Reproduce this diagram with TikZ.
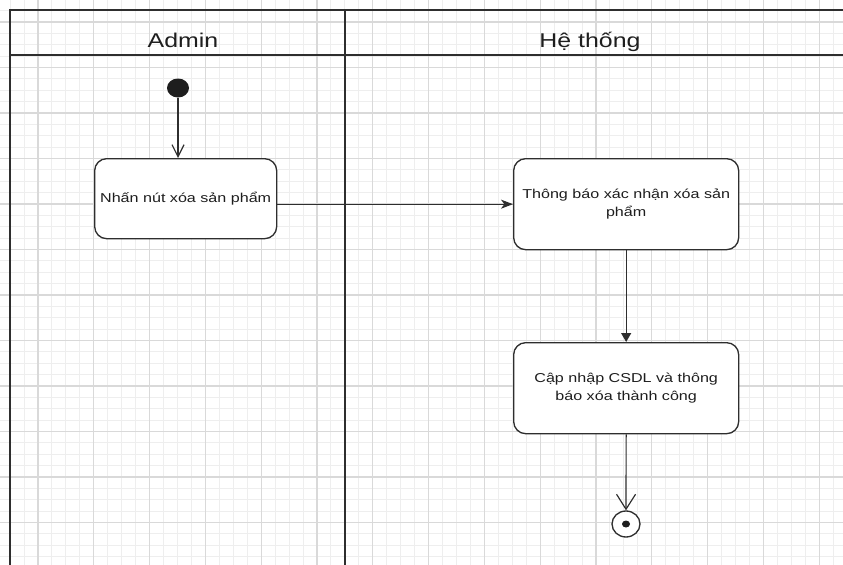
\documentclass[tikz,border=0pt]{standalone}
\usepackage{fontspec}
\setmainfont[FakeStretch=1.25]{Liberation Sans}
\usetikzlibrary{arrows.meta,shapes.geometric}
\definecolor{swink}{HTML}{1E1E1E}
\definecolor{swline}{HTML}{2E2E2E}
\definecolor{swmajor}{HTML}{D9D9D9}
\definecolor{swminor}{HTML}{EEEEEE}

\begin{document}
\begin{tikzpicture}[
  x=0.3mm, y=-0.3mm,
  font={\fontsize{11pt}{15pt}\selectfont}, text=swink,
  action/.style={draw=swline, line width=0.4mm, rounded corners=3.6mm,
              fill=white, inner sep=2pt, align=center, anchor=north west},
  lanetitle/.style={anchor=base, font=\fontsize{17pt}{20pt}\selectfont},
  lane/.style={swline, line width=0.5mm},
  flow/.style={swline, line width=0.35mm},
  minorgrid/.style={swminor, line width=0.3mm},
  majorgrid/.style={swmajor, line width=0.35mm}]

%% Pixel units: the canvas is the 843 x 565 screenshot, y grows downwards.
\useasboundingbox (0,0) rectangle (843,565);

%% ---- grid ----
\foreach \i in {0,...,64}
  \draw[minorgrid] ({-17.8+13.95*\i},0) -- ++(0,565);
\foreach \j in {0,...,52}
  \draw[minorgrid] (0,{-23.5+11.375*\j}) -- ++(843,0);
\foreach \i in {0,...,16}
  \draw[majorgrid] ({-17.8+55.8*\i},0) -- ++(0,565);
\foreach \j in {0,...,13}
  \draw[majorgrid] (0,{-23.5+45.5*\j}) -- ++(843,0);

%% ---- swimlanes ----
\draw[lane] (843,10) -- (10,10) -- (10,565);
\draw[lane] (10,55) -- (843,55);
\draw[lane] (345,10) -- (345,565);

\node[lanetitle] (admin) at (183,47) {Admin};
\node[lanetitle] (system) at (590,47) {Hệ thống};

%% ---- Admin ----
\node[ellipse, fill=swink, minimum width=6.6mm, minimum height=5.7mm,
      inner sep=0pt] (start) at (178,88) {};

\node[action, minimum width=54.6mm, minimum height=24mm] (press) at (94,158)
  {Nhấn nút xóa sản phẩm};

\draw[flow, -{Straight Barb[length=3.6mm,width=3.6mm]}]
  (start) -- (start |- press.north);

%% ---- Hệ thống ----
\node[action, minimum width=67.5mm, minimum height=27.3mm] (confirm)
  at (513,158) {Thông báo xác nhận xóa sản\\phẩm};

\node[action, minimum width=67.5mm, minimum height=27.3mm] (update)
  at (513,342) {Cập nhập CSDL và thông\\báo xóa thành công};

\node[ellipse, draw=swline, line width=0.4mm, fill=white,
      minimum width=8.4mm, minimum height=7.8mm, inner sep=0pt]
  (stop) at (626,524) {};
\fill[swink] (stop.center) ellipse [x radius=1.2mm, y radius=1.05mm];

\draw[flow, -{Stealth[length=3.6mm,width=2.7mm,inset=1mm]}]
  (press.east |- confirm.west) -- (confirm.west);
\draw[flow, -{Triangle[length=2.7mm,width=3mm]}]
  (confirm.south) -- (update.north);
\draw[flow, -{Straight Barb[length=4.5mm,width=5.7mm]}]
  (update.south) -- (stop.north);

\end{tikzpicture}
\end{document}
